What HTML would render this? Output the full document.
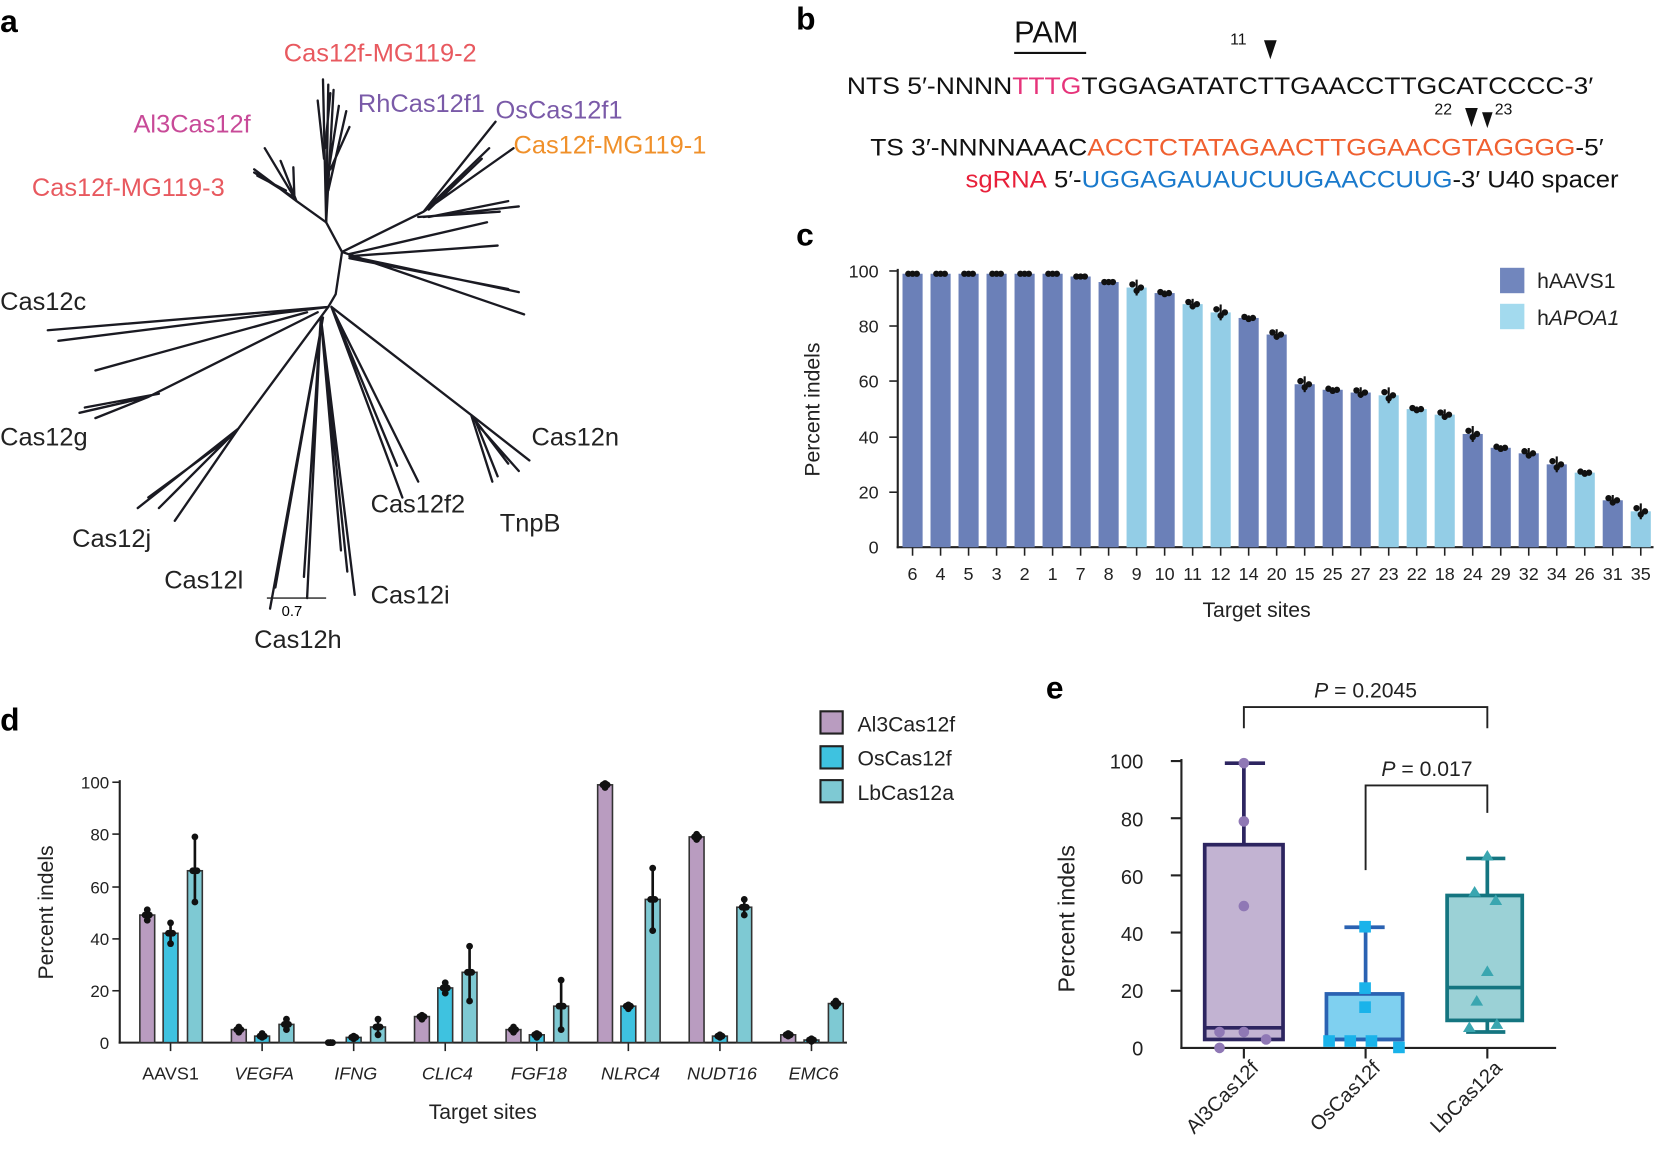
<!DOCTYPE html>
<html><head><meta charset="utf-8"><style>
html,body{margin:0;padding:0;background:#fff;}
svg{display:block;}
text{font-family:"Liberation Sans",sans-serif;}
</style></head><body>
<svg width="1660" height="1158" viewBox="0 0 1568 1094" xmlns="http://www.w3.org/2000/svg">
<text x="0" y="30" font-size="30" font-weight="bold">a</text>
<text x="752" y="28" font-size="30" font-weight="bold">b</text>
<text x="752" y="232" font-size="30" font-weight="bold">c</text>
<text x="0" y="690" font-size="30" font-weight="bold">d</text>
<text x="988" y="660" font-size="30" font-weight="bold">e</text>

<g stroke="#1a1a22" stroke-width="2.2" fill="none" stroke-linecap="round">
<path d="M310,290 L317,278 L323,238 L308,210 L305,75"/>
<path d="M308,210 L310,80 M308,210 L315,85 M309,170 L320,100 M310,180 L327,105 M312,160 L330,120 M306,150 L300,95 M307,140 L312,88"/>
<path d="M308,210 L280,190 L250,140 M280,190 L240,160 M280,190 L265,152 M275,185 L240,163 M278,186 L277,158 M270,180 L243,166"/>
<path d="M323,238 L400,200 L468,115 M400,200 L485,140 M400,200 L462,140 M405,198 L455,150 M395,205 L472,200 M400,205 L490,195 M405,205 L480,190 M330,240 L460,210 M330,242 L470,232 M330,242 L490,276 M330,244 L480,273 M323,238 L495,297"/>
<path d="M310,290 L45,312 M310,290 L55,322 M290,295 L90,350 M300,295 L140,375 L75,390 M140,375 L90,395 M150,372 L80,385"/>
<path d="M310,290 L225,405 L130,480 M225,405 L150,480 M225,405 L165,492 M220,410 L160,470 M215,415 L140,470"/>
<path d="M305,300 L255,575 M305,300 L260,555 M303,300 L290,565 M303,300 L287,545 M303,300 L335,562 M303,300 L328,540 M303,300 L322,520"/>
<path d="M313,290 L375,440 M313,290 L380,470 M313,290 L395,455"/>
<path d="M313,290 L445,392 L480,438 M445,392 L500,435 M445,392 L465,455 M450,400 L490,445 M448,395 L470,450"/>
</g>
<line x1="252" y1="565" x2="308" y2="565" stroke="#222" stroke-width="1.2"/>
<text x="266" y="582" font-size="14">0.7</text>
<g font-size="24">
<text x="268" y="58" fill="#e8595f">Cas12f-MG119-2</text>
<text x="338" y="106" fill="#7a5aa8">RhCas12f1</text>
<text x="468" y="112" fill="#7a5aa8">OsCas12f1</text>
<text x="485" y="145" fill="#f0902a">Cas12f-MG119-1</text>
<text x="126" y="125" fill="#c84a98">Al3Cas12f</text>
<text x="30" y="185" fill="#e8595f">Cas12f-MG119-3</text>
<text x="0" y="293" fill="#222">Cas12c</text>
<text x="0" y="421" fill="#222">Cas12g</text>
<text x="502" y="421" fill="#222">Cas12n</text>
<text x="350" y="484" fill="#222">Cas12f2</text>
<text x="472" y="502" fill="#222">TnpB</text>
<text x="68" y="517" fill="#222">Cas12j</text>
<text x="155" y="556" fill="#222">Cas12l</text>
<text x="350" y="570" fill="#222">Cas12i</text>
<text x="240" y="612" fill="#222">Cas12h</text>
</g>

<g font-size="23" fill="#111">
<text x="958" y="40" font-size="29">PAM</text>
<line x1="958" y1="50" x2="1026" y2="50" stroke="#111" stroke-width="2"/>
<text x="1162" y="42" font-size="15">11</text>
<path d="M1194,38 L1206,38 L1200,56 Z" fill="#111"/>
<text x="800" y="89" textLength="705" lengthAdjust="spacingAndGlyphs">NTS 5′-NNNN<tspan fill="#e6337a">TTTG</tspan>TGGAGATATCTTGAACCTTGCATCCCC-3′</text>
<text x="1355" y="108" font-size="15">22</text>
<path d="M1384,102 L1396,102 L1390,120 Z" fill="#111"/>
<path d="M1400,106 L1410,106 L1405,121 Z" fill="#111"/>
<text x="1412" y="108" font-size="15">23</text>
<text x="822" y="147" textLength="693" lengthAdjust="spacingAndGlyphs">TS 3′-NNNNAAAC<tspan fill="#f06030">ACCTCTATAGAACTTGGAACGTAGGGG</tspan>-5′</text>
<text x="912" y="177" textLength="617" lengthAdjust="spacingAndGlyphs"><tspan fill="#e8203a">sgRNA</tspan> 5′-<tspan fill="#1a7acc">UGGAGAUAUCUUGAACCUUG</tspan>-3′ U40 spacer</text>
</g>

<g id="c">
<line x1="848" y1="254" x2="848" y2="518" stroke="#222" stroke-width="2"/>
<line x1="847" y1="517" x2="1562" y2="517" stroke="#222" stroke-width="2"/>
<g font-size="17" fill="#222" text-anchor="end">
<text x="830" y="262">100</text><text x="830" y="314">80</text><text x="830" y="366">60</text><text x="830" y="419">40</text><text x="830" y="471">20</text><text x="830" y="523">0</text>
</g>
<g stroke="#222" stroke-width="1.5">
<line x1="840" y1="256" x2="848" y2="256"/><line x1="840" y1="308" x2="848" y2="308"/><line x1="840" y1="360" x2="848" y2="360"/><line x1="840" y1="413" x2="848" y2="413"/><line x1="840" y1="465" x2="848" y2="465"/>
</g>
<text transform="translate(774,387) rotate(-90)" font-size="20" text-anchor="middle" fill="#222">Percent indels</text>
<text x="1187" y="583" font-size="20" text-anchor="middle" fill="#222">Target sites</text>
<rect x="1417" y="253" width="23" height="24" fill="#7186bd"/>
<rect x="1417" y="287" width="23" height="24" fill="#a3daee"/>
<text x="1452" y="272" font-size="20" fill="#222">hAAVS1</text>
<text x="1452" y="307" font-size="20" fill="#222">h<tspan font-style="italic">APOA1</tspan></text>
<g id="cbars"></g>
</g>

<g>
<line x1="113" y1="737" x2="113" y2="986" stroke="#222" stroke-width="2"/>
<line x1="112" y1="985" x2="800" y2="985" stroke="#222" stroke-width="2"/>
<g font-size="16" fill="#222" text-anchor="end">
<text x="103" y="745">100</text><text x="103" y="794">80</text><text x="103" y="844">60</text><text x="103" y="893">40</text><text x="103" y="942">20</text><text x="103" y="991">0</text>
</g>
<g stroke="#222" stroke-width="1.5">
<line x1="106" y1="739" x2="113" y2="739"/><line x1="106" y1="788" x2="113" y2="788"/><line x1="106" y1="838" x2="113" y2="838"/><line x1="106" y1="887" x2="113" y2="887"/><line x1="106" y1="936" x2="113" y2="936"/>
</g>
<text transform="translate(50,862) rotate(-90)" font-size="20" text-anchor="middle" fill="#222">Percent indels</text>
<text x="456" y="1057" font-size="20" text-anchor="middle" fill="#222">Target sites</text>
<g id="dbars"></g>
<rect x="775" y="672" width="21" height="21" fill="#b99cc0" stroke="#222" stroke-width="2"/>
<rect x="775" y="705" width="21" height="21" fill="#3ec2e0" stroke="#222" stroke-width="2"/>
<rect x="775" y="737" width="21" height="21" fill="#7ec9d3" stroke="#222" stroke-width="2"/>
<text x="810" y="691" font-size="20" fill="#222">Al3Cas12f</text>
<text x="810" y="723" font-size="20" fill="#222">OsCas12f</text>
<text x="810" y="756" font-size="20" fill="#222">LbCas12a</text>
</g>

<g>
<line x1="1116" y1="717" x2="1116" y2="991" stroke="#222" stroke-width="2"/>
<line x1="1115" y1="990" x2="1470" y2="990" stroke="#222" stroke-width="2"/>
<g font-size="19" fill="#222" text-anchor="end">
<text x="1080" y="726">100</text><text x="1080" y="781">80</text><text x="1080" y="835">60</text><text x="1080" y="889">40</text><text x="1080" y="943">20</text><text x="1080" y="997">0</text>
</g>
<g stroke="#222" stroke-width="2">
<line x1="1106" y1="719" x2="1116" y2="719"/><line x1="1106" y1="773" x2="1116" y2="773"/><line x1="1106" y1="827" x2="1116" y2="827"/><line x1="1106" y1="881" x2="1116" y2="881"/><line x1="1106" y1="936" x2="1116" y2="936"/>
<line x1="1175" y1="990" x2="1175" y2="1000"/><line x1="1290" y1="990" x2="1290" y2="1000"/><line x1="1405" y1="990" x2="1405" y2="1000"/>
</g>
<text transform="translate(1015,868) rotate(-90)" font-size="22" text-anchor="middle" fill="#222">Percent indels</text>
<g stroke="#2d2560" stroke-width="3.5">
<line x1="1175" y1="721" x2="1175" y2="798"/><line x1="1157" y1="721" x2="1195" y2="721"/>
<rect x="1138" y="798" width="74" height="184" fill="#c2b3d2"/>
<line x1="1138" y1="971" x2="1212" y2="971"/>
</g>
<g fill="#8f78b5"><circle cx="1175" cy="721" r="5"/><circle cx="1175" cy="776" r="5"/><circle cx="1175" cy="856" r="5"/><circle cx="1152" cy="975" r="5"/><circle cx="1175" cy="975" r="5"/><circle cx="1196" cy="982" r="5"/><circle cx="1152" cy="990" r="5"/></g>
<g stroke="#2a62b2" stroke-width="3.5">
<line x1="1290" y1="876" x2="1290" y2="939"/><line x1="1270" y1="876" x2="1308" y2="876"/>
<rect x="1253" y="939" width="72" height="43" fill="#7fd0f0"/>
<line x1="1253" y1="982" x2="1325" y2="982"/>
</g>
<g fill="#1ab3ea"><rect x="1284" y="870" width="11" height="11"/><rect x="1284" y="928" width="11" height="11"/><rect x="1284" y="946" width="11" height="11"/><rect x="1250" y="978" width="11" height="11"/><rect x="1270" y="978" width="11" height="11"/><rect x="1290" y="978" width="11" height="11"/><rect x="1316" y="984" width="11" height="11"/></g>
<g stroke="#147580" stroke-width="3.5">
<line x1="1405" y1="811" x2="1405" y2="846"/><line x1="1385" y1="811" x2="1422" y2="811"/>
<line x1="1405" y1="964" x2="1405" y2="975"/><line x1="1385" y1="975" x2="1422" y2="975"/>
<rect x="1367" y="846" width="71" height="118" fill="#9bd1d6"/>
<line x1="1367" y1="933" x2="1438" y2="933"/>
</g>
<g fill="#3aa6b0"><path d="M1405,803 l6,10 h-12z"/><path d="M1393,837 l6,10 h-12z"/><path d="M1413,845 l6,10 h-12z"/><path d="M1405,912 l6,10 h-12z"/><path d="M1395,940 l6,10 h-12z"/><path d="M1388,965 l6,10 h-12z"/><path d="M1414,962 l6,10 h-12z"/></g>
<g stroke="#222" stroke-width="1.8" fill="none">
<path d="M1175,688 V668 H1405 V688"/>
<path d="M1290,822 V742 H1405 V768"/>
</g>
<text x="1290" y="659" font-size="20" text-anchor="middle" fill="#222"><tspan font-style="italic">P</tspan> = 0.2045</text>
<text x="1348" y="733" font-size="20" text-anchor="middle" fill="#222"><tspan font-style="italic">P</tspan> = 0.017</text>
<g font-size="19" fill="#222" text-anchor="end">
<text transform="translate(1190,1010) rotate(-45)">Al3Cas12f</text>
<text transform="translate(1305,1010) rotate(-45)">OsCas12f</text>
<text transform="translate(1420,1010) rotate(-45)">LbCas12a</text>
</g>
</g>
</svg>
<script>
(function(){
var NS="http://www.w3.org/2000/svg";
function el(p,t,a,txt){var e=document.createElementNS(NS,t);for(var k in a)e.setAttribute(k,a[k]);if(txt!==undefined)e.textContent=txt;p.appendChild(e);return e;}
var labs=[6,4,5,3,2,1,7,8,9,10,11,12,14,20,15,25,27,23,22,18,24,29,32,34,26,31,35];
var vals=[99,99,99,99,99,99,98,96,94,92,88,85,83,77,59,57,56,55,50,48,41,36,34,30,27,17,13];
var light={9:1,11:1,12:1,23:1,22:1,18:1,26:1,35:1};
var g=document.getElementById("cbars");
for(var i=0;i<27;i++){
 var cx=862+i*26.46, y=517-vals[i]*2.61;
 el(g,"rect",{x:cx-9.5,y:y,width:19,height:517-y,fill:light[labs[i]]?"#93cde6":"#6b80b8"});
 el(g,"line",{x1:cx,y1:517,x2:cx,y2:525,stroke:"#222","stroke-width":1.5});
 el(g,"text",{x:cx,y:548,"font-size":17,"text-anchor":"middle",fill:"#222"},labs[i]);
 var sp=vals[i]>95?0:(i%3)+1;
 el(g,"line",{x1:cx,y1:y-sp*2.5,x2:cx,y2:y+sp*2.5,stroke:"#111","stroke-width":2});
 el(g,"circle",{cx:cx-4,cy:y-sp,r:3,fill:"#111"});
 el(g,"circle",{cx:cx,cy:y+sp,r:3,fill:"#111"});
 el(g,"circle",{cx:cx+4,cy:y,r:3,fill:"#111"});
}
var gr=["AAVS1","VEGFA","IFNG","CLIC4","FGF18","NLRC4","NUDT16","EMC6"];
var dv=[[49,42,66],[5,2.5,7],[0,2,6],[10,21,27],[5,3,14],[99,14,55],[79,2.5,52],[3,1,15]];
var er=[[[47,51],[38,46],[54,79]],[[4,6],[2,3.5],[5,9]],[[0,0],[1.5,2.5],[3,9]],[[9,10.5],[19,23],[16,37]],[[4,6],[2,3.5],[5,24]],[[98,99.5],[13,14.5],[43,67]],[[78,80],[2,3],[49,55]],[[2.5,3.5],[0.5,1.5],[14,16]]];
var cols=["#b99cc0","#3ec2e0","#7ec9d3"];
var gd=document.getElementById("dbars");
var off=[-22,0,23];
for(var j=0;j<8;j++){
 var c=161+j*86.5;
 el(gd,"line",{x1:c,y1:985,x2:c,y2:993,stroke:"#222","stroke-width":1.5});
 el(gd,"text",{x:c+(j==0?0:2),y:1020,"font-size":17,"text-anchor":"middle",fill:"#222","font-style":j==0?"normal":"italic"},gr[j]);
 for(var k=0;k<3;k++){
  var bx=c+off[k], y=985-dv[j][k]*2.46;
  el(gd,"rect",{x:bx-7,y:y,width:14,height:985-y,fill:cols[k],stroke:"#333","stroke-width":1.5});
  var e0=985-er[j][k][0]*2.46,e1=985-er[j][k][1]*2.46;
  el(gd,"line",{x1:bx,y1:e0,x2:bx,y2:e1,stroke:"#111","stroke-width":2.5});
  el(gd,"circle",{cx:bx,cy:e0,r:3.2,fill:"#111"});
  el(gd,"circle",{cx:bx,cy:e1,r:3.2,fill:"#111"});
  el(gd,"circle",{cx:bx-2,cy:y,r:3.2,fill:"#111"});
  el(gd,"circle",{cx:bx+2,cy:y,r:3.2,fill:"#111"});
 }
}
})();
</script>
</body></html>
